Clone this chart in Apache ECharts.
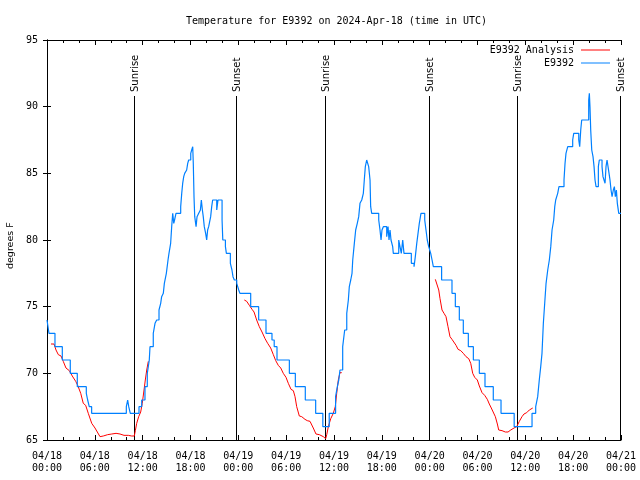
<!DOCTYPE html>
<html><head><meta charset="utf-8">
<script src="https://cdn.jsdelivr.net/npm/echarts@6/dist/echarts.min.js"></script>
<style>html,body{margin:0;padding:0;background:#fff}#c{width:640px;height:480px}</style>
</head><body><div id="c"></div>
<script>
// Times are hours since 2024-04-18 00:00 UTC
const titleText = 'Temperature for E9392 on 2024-Apr-18 (time in UTC)';
const yAxisTitle = 'degrees F';
const xTickLabels = ['04/18\n00:00','04/18\n06:00','04/18\n12:00','04/18\n18:00',
  '04/19\n00:00','04/19\n06:00','04/19\n12:00','04/19\n18:00',
  '04/20\n00:00','04/20\n06:00','04/20\n12:00','04/20\n18:00','04/21\n00:00'];
const seriesNames = ['E9392 Analysis', 'E9392'];

// Observed station temperature (step changes: [hour, degF])
const observed = [
 [0.0,74],[0.25,73],[1.0,72],[1.92,71],[2.92,70],[3.8,69],[4.93,68.5],[5.1,68],[5.3,67.5],[5.6,67],
 [9.95,67.5],[10.12,68],[10.25,67.5],[10.45,67],[11.54,67.5],[11.88,68],[12.29,69],[12.58,70],[12.83,71],[12.92,72],
 [13.33,73],[13.55,73.75],[13.76,74],[14.05,74.75],[14.26,75.25],[14.38,75.75],[14.59,76],[14.72,76.75],[14.97,77.5],[15.18,78.5],
 [15.3,79],[15.51,79.75],[15.64,81],[15.77,82],[15.9,81.25],[16.0,81.5],[16.18,82],[16.77,82.5],[16.9,83.5],[17.02,84.25],
 [17.15,84.75],[17.27,85],[17.52,85.25],[17.65,85.75],[17.77,86],[18.03,86.5],[18.15,86.75],[18.28,87],[18.35,85.75],[18.44,83.25],
 [18.53,81.75],[18.7,81],[18.82,81.75],[19.03,82],[19.24,82.25],[19.36,83],[19.49,82.25],[19.6,81.75],[19.73,81],[19.9,80.5],
 [20.03,80],[20.15,80.75],[20.28,81],[20.53,81.75],[20.66,82.5],[20.78,83],[21.29,82.25],[21.45,83],[21.96,81.5],[22.05,80],
 [22.38,79.5],[22.5,79],[23.0,78.25],[23.2,77.75],[23.33,77.25],[23.5,77],[23.8,76.75],[24.05,76.25],[24.2,76],[25.55,75],
 [26.55,74],[27.47,73],[28.22,72.5],[28.5,72],[28.85,71],[30.4,70],[31.15,69],[32.4,68],[33.7,67],[34.6,66],
 [35.4,67],[36.2,68.25],[36.42,69],[36.6,69.5],[36.75,70.25],[37.09,72],[37.34,73.25],[37.6,74.5],[37.8,75.5],[37.92,76.5],
 [38.1,77],[38.26,77.5],[38.35,78.5],[38.55,79.75],[38.72,80.75],[38.92,81.25],[39.1,81.75],[39.26,82.75],[39.48,83],[39.68,83.5],
 [39.8,84.5],[39.93,85.5],[40.1,86],[40.35,85.5],[40.52,84.5],[40.6,82.5],[40.73,82],[41.61,81.5],[41.77,80.75],[41.9,80],
 [42.02,80.75],[42.19,81],[42.61,80.25],[42.78,81],[42.9,80],[43.03,80.75],[43.15,80],[43.36,79.5],[43.44,79],[44.12,80],
 [44.28,79.5],[44.44,79],[44.62,80],[44.78,79],[45.7,78.25],[46.04,78],[46.2,78.75],[46.38,79.75],[46.54,80.5],[46.7,81.25],
 [46.91,82],[47.38,81.5],[47.54,80.75],[47.7,80],[47.88,79.5],[48.13,79],[48.3,78.5],[48.46,78],[49.5,77],[50.8,76],
 [51.22,75],[51.72,74],[52.22,73],[52.85,72],[53.48,71],[54.23,70],[54.94,69],[55.98,68],[56.95,67],[58.6,66],
 [60.84,67],[61.3,67.5],[61.55,68.25],[61.75,69.5],[61.93,70.5],[62.09,71.5],[62.26,73.75],[62.43,75.25],[62.6,76.75],[62.81,77.75],
 [63.01,78.5],[63.19,79.5],[63.35,80.75],[63.56,81.5],[63.69,82.5],[63.81,83],[64.06,83.5],[64.22,84],[64.85,84.5],[64.98,85.75],
 [65.1,86.5],[65.32,87],[65.94,87.5],[66.07,88],[66.7,87.5],[66.82,87],[66.95,88.25],[67.07,89],[67.95,90.5],[68.03,91],
 [68.11,90],[68.2,88.25],[68.33,86.75],[68.49,86.25],[68.62,85.5],[68.74,84.5],[68.87,84],[69.16,85.5],[69.28,86],[69.62,85.5],
 [69.74,84.75],[69.87,84.5],[70.0,84.25],[70.12,85.5],[70.25,86],[70.5,85],[70.62,84.5],[70.75,83.75],[70.88,83.25],[71.04,83.75],
 [71.17,84],[71.29,83.25],[71.42,83.75],[71.54,82.75],[71.72,82],[72.0,82]
];

// Analysis temperatures, one run per day: [hour, degF]
const analysisDay1 = [
 [0.5,72.2],[0.88,72.2],[1.13,71.75],[1.42,71.4],[1.76,71.3],[2.04,70.9],[2.38,70.4],[2.8,70.2],[3.17,69.8],[3.6,69.4],
 [3.85,69.1],[4.23,68.5],[4.55,67.75],[4.85,67.6],[5.18,67],[5.61,66.25],[6.02,65.9],[6.31,65.6],[6.65,65.25],[7.06,65.3],
 [7.61,65.4],[8.12,65.45],[8.66,65.5],[9.16,65.45],[9.66,65.35],[10.2,65.35],[10.62,65.3],[10.95,65.3],[11.08,65.7],[11.25,66.25],
 [11.5,66.75],[11.75,67.1],[11.95,67.75],[12.17,68.75],[12.33,69.5],[12.51,70.25],[12.71,70.9]
];
const analysisDay2 = [
 [24.75,75.5],[25.05,75.4],[25.38,75.1],[25.72,74.8],[25.97,74.6],[26.3,74],[26.63,73.5],[26.97,73.1],[27.35,72.6],[27.68,72.25],
 [28.06,71.9],[28.39,71.4],[28.69,70.95],[29.01,70.6],[29.32,70.4],[29.64,70],[29.98,69.7],[30.27,69.25],[30.61,68.8],[30.9,68.7],
 [31.11,68.25],[31.32,67.5],[31.65,66.8],[31.95,66.75],[32.36,66.55],[32.65,66.45],[32.99,66.4],[33.4,65.9],[33.74,65.45],[34.16,65.4],
 [34.66,65.25],[34.96,65.1],[35.09,65.4],[35.29,66],[35.59,66.6],[35.91,67],[36.16,67.5],[36.34,68.5],[36.54,69.5],[36.75,70.05],
 [36.97,70.05]
];
const analysisDay3 = [
 [48.71,77.05],[48.96,77],[49.14,76.25],[49.3,75.6],[49.55,74.75],[49.8,74.5],[50.05,74.25],[50.3,73.5],[50.55,72.75],[50.8,72.55],
 [51.05,72.45],[51.31,72.1],[51.56,71.8],[51.9,71.7],[52.22,71.5],[52.56,71.25],[52.9,71.1],[53.15,70.75],[53.4,70],[53.65,69.7],
 [53.98,69.5],[54.23,69.05],[54.57,68.55],[54.9,68.35],[55.23,68.05],[55.48,67.7],[55.73,67.4],[55.98,67.25],[56.24,66.75],[56.49,66.2],
 [56.66,65.75],[57.08,65.7],[57.49,65.6],[57.83,65.6],[58.17,65.75],[58.58,65.9],[58.92,66],[59.25,66.4],[59.58,66.75],[59.83,66.95],
 [60.17,67.05],[60.5,67.25],[60.75,67.4],[60.93,67.4]
];

const sunTimes = [10.95, 23.75, 34.92, 47.86, 58.98, 71.9];
const sunLabels = ['Sunrise','Sunset','Sunrise','Sunset','Sunrise','Sunset'];

const FONT = 'DejaVu Sans Mono';
const SIDEFONT = 'DejaVu Sans';
const analysis = analysisDay1.concat([['-','-']], analysisDay2, [['-','-']], analysisDay3);

const chart = echarts.init(document.getElementById('c'), null, {renderer: 'canvas'});
const baseX = {
  type: 'value', min: 0, max: 72, interval: 6,
  axisLine: {show: true, lineStyle: {color: '#000', width: 1}},
  axisTick: {show: true, inside: true, length: 5, lineStyle: {color: '#000'}},
  minorTick: {show: true, splitNumber: 3, length: 3, lineStyle: {color: '#000'}},
  splitLine: {show: false}
};
const baseY = {
  type: 'value', min: 65, max: 95, interval: 5,
  axisLine: {show: true, lineStyle: {color: '#000', width: 1}},
  axisTick: {show: true, inside: true, length: 4, lineStyle: {color: '#000'}},
  splitLine: {show: false}
};
chart.setOption({
  animation: false,
  backgroundColor: '#fff',
  title: {text: titleText, left: 181, top: 11,
    textStyle: {fontFamily: FONT, fontSize: 10, fontWeight: 'normal', color: '#000'}},
  grid: {left: 47, right: 19, top: 40, bottom: 40},
  legend: {
    data: seriesNames, orient: 'vertical', right: 30, top: 45, align: 'right',
    padding: 0, icon: 'rect', itemWidth: 29, itemHeight: 1, itemGap: 3,
    textStyle: {fontFamily: FONT, fontSize: 10, color: '#000', lineHeight: 10, padding: [0, 2, 0, 0]}
  },
  xAxis: [
    Object.assign({}, baseX, {position: 'bottom',
      axisLabel: {show: true, margin: 10, lineHeight: 12, fontFamily: FONT, fontSize: 10, color: '#000',
        formatter: v => xTickLabels[Math.round(v / 6)]}}),
    Object.assign({}, baseX, {position: 'top', axisLabel: {show: false}})
  ],
  yAxis: [
    Object.assign({}, baseY, {position: 'left',
      axisLabel: {show: true, margin: 9, fontFamily: FONT, fontSize: 10, color: '#000'}}),
    Object.assign({}, baseY, {position: 'right', axisLabel: {show: false}})
  ],
  graphic: [{
    type: 'text', x: 11, y: 269, rotation: Math.PI / 2,
    style: {text: yAxisTitle, font: '9.5px "' + SIDEFONT + '"', fill: '#000', align: 'left', verticalAlign: 'middle'}
  }],
  series: [
    {
      type: 'custom', name: 'sun', coordinateSystem: 'cartesian2d', silent: true, clip: false,
      data: sunTimes.map((t, i) => [t, 65, i]),
      encode: {x: 0, y: 1},
      renderItem: function (params, api) {
        const t = api.value(0);
        const label = sunLabels[api.value(2)];
        const p0 = api.coord([t, 65]);
        const p1 = api.coord([t, 90.8]);
        const pt = api.coord([t, 91.1]);
        return {type: 'group', children: [
          {type: 'line', shape: {x1: Math.round(p0[0]) + 0.5, y1: p0[1], x2: Math.round(p0[0]) + 0.5, y2: p1[1]},
           style: {stroke: '#000', lineWidth: 1}},
          {type: 'text', x: pt[0] + 1.5, y: pt[1], rotation: Math.PI / 2,
           style: {text: label, font: '10px "' + SIDEFONT + '"', fill: '#000', align: 'left', verticalAlign: 'middle'}}
        ]};
      }
    },
    {
      name: seriesNames[0], type: 'line', data: analysis, symbol: 'none', connectNulls: false,
      lineStyle: {color: '#ff0000', width: 1}, itemStyle: {color: '#ff0000'}
    },
    {
      name: seriesNames[1], type: 'line', data: observed, step: 'end', symbol: 'none',
      lineStyle: {color: '#0080ff', width: 1.2}, itemStyle: {color: '#0080ff'}
    }
  ]
});
</script></body></html>
